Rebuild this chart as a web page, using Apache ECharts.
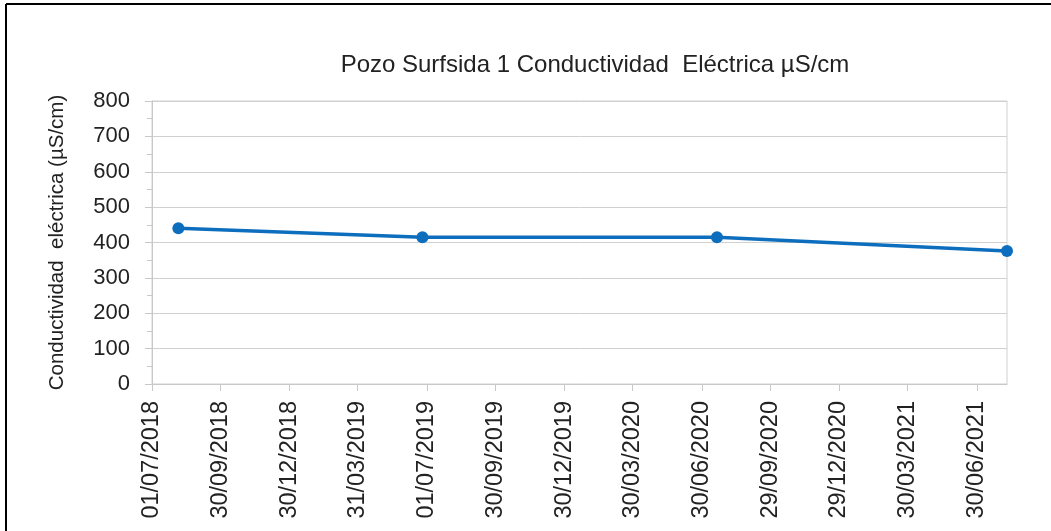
<!DOCTYPE html>
<html>
<head>
<meta charset="utf-8">
<script src="https://cdn.jsdelivr.net/npm/echarts@6/dist/echarts.min.js"></script>
<style>
html,body{margin:0;padding:0;background:#fff;}
#chart{width:1051px;height:531px;}
</style>
</head>
<body>
<div id="chart"></div>
<script>
// Data
var sampleDates = ['05/08/2018', '25/06/2019', '20/07/2020', '09/08/2021'];
var conductivity = [440, 415, 415, 376];
var xTickLabels = ['01/07/2018', '30/09/2018', '30/12/2018', '31/03/2019', '01/07/2019',
  '30/09/2019', '30/12/2019', '30/03/2020', '30/06/2020', '29/09/2020', '29/12/2020',
  '30/03/2021', '30/06/2021'];
var yTicks = [0, 100, 200, 300, 400, 500, 600, 700, 800];
var chartTitle = 'Pozo Surfsida 1 Conductividad  Eléctrica µS/cm';
var yAxisTitle = 'Conductividad  eléctrica (µS/cm)';

function parseDMY(s) {
  var p = s.split('/');
  return Date.UTC(+p[2], +p[1] - 1, +p[0]);
}
function fmtDMY(v) {
  var d = new Date(v);
  var dd = ('0' + d.getUTCDate()).slice(-2);
  var mm = ('0' + (d.getUTCMonth() + 1)).slice(-2);
  return dd + '/' + mm + '/' + d.getUTCFullYear();
}

var tickValues = xTickLabels.map(parseDMY);
var seriesData = sampleDates.map(function (d, i) { return [parseDMY(d), conductivity[i]]; });

var FONT = 'Liberation Sans, Arial, sans-serif';
var chart = echarts.init(document.getElementById('chart'), null, {renderer: 'canvas'});
chart.setOption({
  animation: false,
  backgroundColor: '#ffffff',
  title: {
    text: chartTitle,
    left: 590,
    top: 48,
    textAlign: 'center',
    textStyle: {fontFamily: FONT, fontSize: 24, fontWeight: 'normal', color: '#222'}
  },
  graphic: [
    {type: 'line', shape: {x1: 6, y1: 4, x2: 1051, y2: 4}, style: {stroke: '#000', lineWidth: 2}, silent: true},
    {type: 'line', shape: {x1: 6, y1: 4, x2: 6, y2: 531}, style: {stroke: '#000', lineWidth: 2}, silent: true}
  ],
  grid: {
    left: 152, right: 44, top: 101, bottom: 147,
    show: true, borderColor: '#d0d0d0', borderWidth: 1, backgroundColor: 'transparent'
  },
  xAxis: {
    type: 'value',
    min: tickValues[0],
    max: seriesData[seriesData.length - 1][0],
    axisLine: {show: true, lineStyle: {color: '#c8c8c8', width: 1}},
    axisTick: {show: true, length: 7, customValues: tickValues, lineStyle: {color: '#c8c8c8'}},
    splitLine: {show: false},
    axisLabel: {
      customValues: tickValues,
      rotate: 90,
      margin: 17,
      fontFamily: FONT,
      fontSize: 23.5,
      color: '#222',
      formatter: function (v) { return fmtDMY(v); }
    }
  },
  yAxis: {
    type: 'value',
    min: yTicks[0],
    max: yTicks[yTicks.length - 1],
    interval: yTicks[1] - yTicks[0],
    name: yAxisTitle,
    nameLocation: 'middle',
    nameRotate: 90,
    nameGap: 84,
    nameTextStyle: {fontFamily: FONT, fontSize: 20.5, color: '#222'},
    axisLine: {show: true, lineStyle: {color: '#c8c8c8', width: 1}},
    axisTick: {show: true, length: 7, lineStyle: {color: '#c8c8c8'}},
    minorTick: {show: true, splitNumber: 2, length: 5, lineStyle: {color: '#c8c8c8'}},
    splitLine: {show: true, lineStyle: {color: '#d0d0d0', width: 1}},
    axisLabel: {margin: 22, fontFamily: FONT, fontSize: 22, color: '#222'}
  },
  series: [{
    type: 'line',
    data: seriesData,
    clip: false,
    color: '#0e6ebe',
    lineStyle: {width: 3.5, color: '#0e6ebe'},
    symbol: 'circle',
    symbolSize: 12,
    itemStyle: {color: '#0e6ebe'}
  }]
});
</script>
</body>
</html>
